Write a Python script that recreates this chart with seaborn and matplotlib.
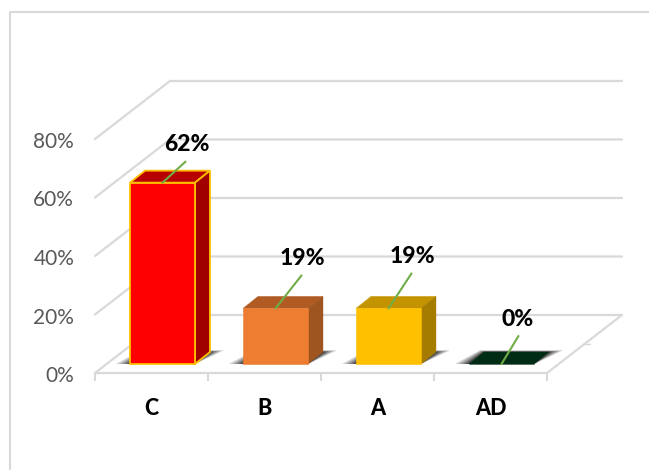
"""Level shares as a faux-3D column chart (walls and bar depth drawn by hand)."""
import matplotlib.pyplot as plt
import pandas as pd
import seaborn as sns
from matplotlib.lines import Line2D
from matplotlib.patches import Polygon
from matplotlib.ticker import PercentFormatter
from matplotlib.transforms import ScaledTranslation

levels = ['C', 'B', 'A', 'AD']
shares = [62, 19, 19, 0]
y_ticks = [0, 20, 40, 60, 80]

front_colors = ['#FF0000', '#ED7D31', '#FFC000', '#002C16']
top_colors = ['#B80000', '#B05A24', '#C49400', '#002C16']
side_colors = ['#A00000', '#9E5520', '#A67C00', '#002C16']
edge_colors = ['#FFC000', '#ED7D31', '#FFC000', '#002C16']
GRID = '#D9D9D9'
LEADER = '#70AD47'

# label / leader offsets from the bar's top centre, pixels
leader_off = [(23, 21), (26, 33), (23, 35), (17, 28)]
label_off = [(24, 38), (27, 50), (24, 52), (16, 44)]

W, H = 649, 470
PX_X, PX_Y = 113, 234 / 80  # pixels per category, pixels per percent

sns.set_theme(style='white')
plt.rcParams['font.family'] = ['Lato', 'DejaVu Sans']

fig = plt.figure(figsize=(W / 100, H / 100), dpi=100)

# chart frame, only top and left are visible
fig.add_artist(Line2D([10 / W, 10 / W, 1], [0, 1 - 12 / H, 1 - 12 / H], color=GRID, lw=1.5))

# --- walls and floor ---
wall = fig.add_axes([95 / W, (H - 373) / H, 452 / W, 234 / H])
wall.patch.set_alpha(0)
wall.set_xlim(-0.5, 3.5)
wall.set_ylim(0, 80)
for s in wall.spines.values():
    s.set_visible(False)

wall_dx, wall_dy = 75 / PX_X, 58 / PX_Y
for t in y_ticks:
    wall.plot([-0.5, -0.5 + wall_dx, 3.5 + wall_dx], [t, t + wall_dy, t + wall_dy],
              color=GRID, lw=1.6, clip_on=False, zorder=1)
wall.plot([-0.5, 3.5, 3.5 + wall_dx], [0, 0, wall_dy], color=GRID, lw=1.6, clip_on=False, zorder=1)
wall.plot([3.5 + 36 / PX_X, 3.5 + 43 / PX_X], [29 / PX_Y, 29 / PX_Y], color=GRID, lw=1, clip_on=False)

wall.set_yticks(y_ticks)
wall.yaxis.set_major_formatter(PercentFormatter(decimals=0))
wall.tick_params(axis='y', length=0, pad=15, labelsize=15, labelcolor='#595959')
down = ScaledTranslation(0, -0.01, fig.dpi_scale_trans)
for lab in wall.get_yticklabels():
    lab.set_transform(lab.get_transform() + down)
wall.set_xticks(range(len(levels)), levels, fontweight=900)
wall.set_xticks([-0.5, 0.5, 1.5, 2.5, 3.5], minor=True)
wall.tick_params(axis='x', which='major', length=0, pad=18, labelsize=15.5, labelcolor='black')
wall.tick_params(axis='x', which='minor', bottom=True, length=5.5, width=1.5, color=GRID)

# --- bars sit a little back on the floor ---
ax = fig.add_axes([106 / W, (H - 364) / H, 452 / W, 234 / H])
df = pd.DataFrame({'level': levels, 'share': shares})
sns.barplot(data=df, x='level', y='share', hue='level', palette=front_colors, saturation=1,
            width=0.575, legend=False, ax=ax)
ax.set_xlim(-0.5, 3.5)
ax.set_ylim(0, 80)
ax.axis('off')

dx, dy = 15 / PX_X, 12 / PX_Y
for i, bar in enumerate(ax.patches):
    x0, x1 = bar.get_x(), bar.get_x() + bar.get_width()
    top = bar.get_height()
    bar.set_edgecolor(edge_colors[i])
    bar.set_linewidth(1.3 if i == 0 else 0.4)
    bar.set_zorder(3)
    bar.set_clip_on(False)

    # soft floor shadow, stacked translucent layers
    for grow, alpha in [(14, 0.22), (10, 0.3), (6, 0.4), (3, 0.5)]:
        g = grow / PX_X
        lift = dy + grow * 0.12 / PX_Y
        ax.add_patch(Polygon([(x0 - g, 0), (x1, 0), (x1 + dx + g, lift), (x0 + dx - g * 0.3, lift)],
                             facecolor='#282828', edgecolor='none', alpha=alpha, zorder=1, clip_on=False))

    ax.add_patch(Polygon([(x0, top), (x1, top), (x1 + dx, top + dy), (x0 + dx, top + dy)],
                         facecolor=top_colors[i], edgecolor=edge_colors[i] if i == 0 else top_colors[i],
                         lw=1.3 if i == 0 else 0.3, zorder=2, clip_on=False))
    if top > 0:
        ax.add_patch(Polygon([(x1, 0), (x1 + dx, dy), (x1 + dx, top + dy), (x1, top)],
                             facecolor=side_colors[i], edgecolor=edge_colors[i] if i == 0 else side_colors[i],
                             lw=1.3 if i == 0 else 0.3, zorder=2, clip_on=False))

    cx = (x0 + x1) / 2
    ax.annotate('', xy=(cx, top), xytext=leader_off[i], textcoords='offset pixels', zorder=5,
                arrowprops=dict(arrowstyle='-', color=LEADER, lw=1.5, shrinkA=0, shrinkB=0))
    ax.annotate(f'{shares[i]}%', xy=(cx, top), xytext=label_off[i], textcoords='offset pixels',
                ha='center', va='center', fontsize=16.5, fontweight=900, color='black', zorder=6)

fig.savefig('out.png', dpi=100)
